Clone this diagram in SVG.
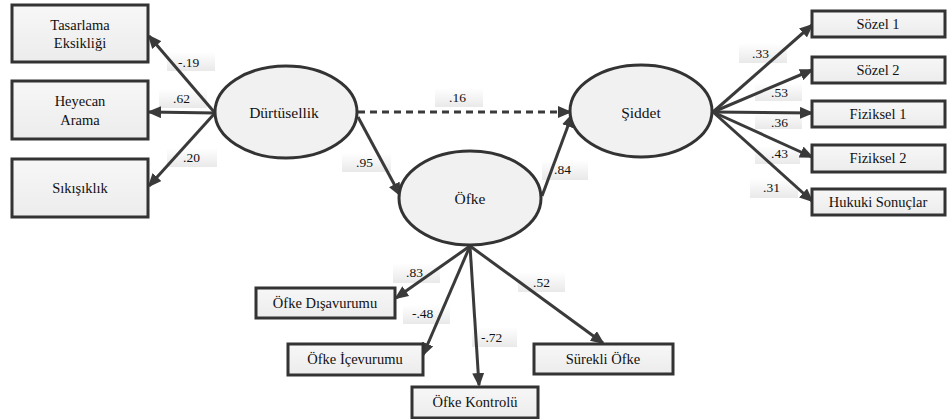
<svg xmlns="http://www.w3.org/2000/svg" width="948" height="419" viewBox="0 0 948 419">
<defs>
<linearGradient id="lg" x1="0" y1="0" x2="0" y2="1"><stop offset="0" stop-color="#ffffff"/><stop offset="1" stop-color="#e9e9e9"/></linearGradient>
<linearGradient id="bg" x1="0" y1="0" x2="0" y2="1"><stop offset="0" stop-color="#f7f7f7"/><stop offset="1" stop-color="#ececec"/></linearGradient>
<marker id="ah" markerUnits="userSpaceOnUse" markerWidth="14" markerHeight="12" refX="12" refY="6" orient="auto"><path d="M0,0 L14,6 L0,12 z" fill="#3a3a3a"/></marker>
</defs>
<style>
.box{fill:url(#bg);stroke:#333;stroke-width:3}
.ell{fill:#f1f1f1;stroke:#333;stroke-width:3}
text{font-family:"Liberation Serif","Times New Roman",serif}
.t{font-size:14.5px;fill:#111;text-anchor:middle;dominant-baseline:central}
.e{font-size:15.5px}
.lb rect{fill:url(#lg)}
.lb text{font-size:13.5px;fill:#111;dominant-baseline:central}
.c line{stroke:#3a3a3a;stroke-width:3;marker-end:url(#ah)}
.c .d{stroke-dasharray:7 5}
</style>

<g id="labels" class="lb">
<rect x="167" y="52" width="48" height="19"/><text x="178" y="62">-.19</text>
<rect x="159" y="89" width="48" height="19"/><text x="173" y="98">.62</text>
<rect x="167" y="148" width="50" height="19"/><text x="183" y="157">.20</text>
<rect x="435" y="88" width="48" height="19"/><text x="449" y="97">.16</text>
<rect x="342" y="153" width="49" height="19"/><text x="356" y="162">.95</text>
<rect x="542" y="160" width="46" height="20"/><text x="554" y="169">.84</text>
<rect x="739" y="43" width="48" height="20"/><text x="752" y="53">.33</text>
<rect x="755" y="83" width="47" height="18"/><text x="771" y="92">.53</text>
<rect x="755" y="111" width="47" height="18"/><text x="771" y="122">.36</text>
<rect x="755" y="146" width="45" height="18"/><text x="771" y="153">.43</text>
<rect x="750" y="178" width="48" height="20"/><text x="763" y="187">.31</text>
<rect x="393" y="263" width="47" height="20"/><text x="406" y="272">.83</text>
<rect x="403" y="305" width="47" height="19"/><text x="412" y="313">-.48</text>
<rect x="472" y="327" width="45" height="20"/><text x="481" y="337">-.72</text>
<rect x="518" y="272" width="47" height="20"/><text x="533" y="282">.52</text>
</g>

<g id="connectors" class="c">
<line x1="215" y1="113" x2="149" y2="36"/>
<line x1="215" y1="113" x2="149" y2="112"/>
<line x1="215" y1="113" x2="149" y2="186"/>
<line class="d" x1="358" y1="112" x2="570" y2="112"/>
<line x1="358" y1="117" x2="400" y2="195"/>
<line x1="542" y1="196" x2="572" y2="115"/>
<line x1="713" y1="112" x2="812" y2="25"/>
<line x1="713" y1="112" x2="812" y2="70"/>
<line x1="713" y1="112" x2="812" y2="113"/>
<line x1="713" y1="112" x2="812" y2="157"/>
<line x1="713" y1="112" x2="812" y2="201"/>
<line x1="470" y1="246" x2="396" y2="298"/>
<line x1="470" y1="246" x2="423" y2="355"/>
<line x1="470" y1="246" x2="479" y2="385"/>
<line x1="470" y1="246" x2="603" y2="343"/>
</g>

<g id="tasarlama"><rect class="box" x="12" y="5" width="136" height="57"/><text class="t" x="80" y="25">Tasarlama</text><text class="t" x="80" y="43">Eksikliği</text></g>
<g id="heyecan"><rect class="box" x="12" y="81" width="136" height="58"/><text class="t" x="80" y="101">Heyecan</text><text class="t" x="80" y="120">Arama</text></g>
<g id="sikisiklik"><rect class="box" x="12" y="159" width="136" height="58"/><text class="t" x="80" y="188">Sıkışıklık</text></g>

<g id="durtusellik"><ellipse class="ell" cx="286" cy="112" rx="71" ry="46"/><text class="t e" x="284" y="112">Dürtüsellik</text></g>
<g id="ofke"><ellipse class="ell" cx="470" cy="198" rx="71" ry="47"/><text class="t e" x="470" y="198">Öfke</text></g>
<g id="siddet"><ellipse class="ell" cx="641" cy="111" rx="71" ry="46"/><text class="t e" x="641" y="112">Şiddet</text></g>

<g id="sozel1"><rect class="box" x="812" y="11" width="133" height="26"/><text class="t" x="878" y="24">Sözel 1</text></g>
<g id="sozel2"><rect class="box" x="812" y="57" width="133" height="26"/><text class="t" x="878" y="70">Sözel 2</text></g>
<g id="fiziksel1"><rect class="box" x="812" y="101" width="133" height="26"/><text class="t" x="878" y="114">Fiziksel 1</text></g>
<g id="fiziksel2"><rect class="box" x="812" y="145" width="133" height="27"/><text class="t" x="878" y="158">Fiziksel 2</text></g>
<g id="hukuki"><rect class="box" x="812" y="189" width="133" height="26"/><text class="t" x="878" y="202">Hukuki Sonuçlar</text></g>

<g id="disavurumu"><rect class="box" x="256" y="288" width="139" height="30"/><text class="t" x="325" y="303">Öfke Dışavurumu</text></g>
<g id="icevurumu"><rect class="box" x="288" y="344" width="135" height="31"/><text class="t" x="355" y="359">Öfke İçevurumu</text></g>
<g id="kontrolu"><rect class="box" x="412" y="387" width="126" height="31"/><text class="t" x="475" y="402">Öfke Kontrolü</text></g>
<g id="surekli"><rect class="box" x="534" y="344" width="139" height="30"/><text class="t" x="603" y="359">Sürekli Öfke</text></g>
</svg>
